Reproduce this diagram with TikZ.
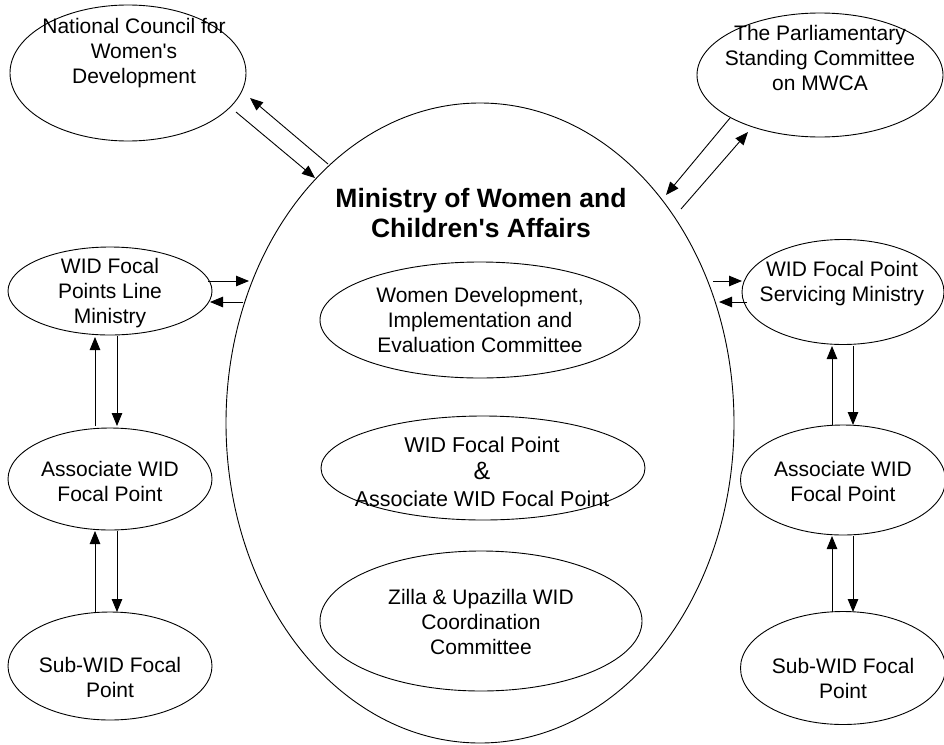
\documentclass[tikz,border=0pt]{standalone}
\usepackage{fontspec}
\setmainfont{Liberation Sans}
\usetikzlibrary{shapes.geometric,arrows.meta}
\newcommand{\apos}{\textquotesingle}
\begin{document}
\begin{tikzpicture}[x=1pt,y=-1pt,
  bubble/.style={draw, ellipse, line width=0.9pt, inner sep=0pt},
  lbl/.style={align=center, inner sep=0pt, font=\fontsize{21}{25}\selectfont},
  title/.style={align=center, inner sep=0pt, font=\bfseries\fontsize{26.5}{30}\selectfont},
  flow/.style={line width=0.9pt, -{Triangle[length=13pt,width=10.5pt]}}]
\useasboundingbox (0,0) rectangle (944,744);

% ministry and its committees
\node[bubble, minimum width=508pt, minimum height=640pt] (mowca) at (480,423) {};
\node[bubble, minimum width=320pt, minimum height=116pt] (wdiec) at (480,320) {};
\node[bubble, minimum width=324pt, minimum height=104pt] (widfp) at (483,468) {};
\node[bubble, minimum width=322pt, minimum height=140pt] (zilla) at (481,621) {};

% outer bodies
\node[bubble, minimum width=236pt, minimum height=136pt] (ncwd) at (128,73) {};
\node[bubble, minimum width=246pt, minimum height=124pt] (psc) at (820,75) {};
\node[bubble, minimum width=204pt, minimum height=88pt] (lline) at (110,291) {};
\node[bubble, minimum width=204pt, minimum height=102pt] (lassoc) at (110,479) {};
\node[bubble, minimum width=204pt, minimum height=108pt] (lsub) at (110,666) {};
\node[bubble, minimum width=202pt, minimum height=105pt] (rserv) at (843,292) {};
\node[bubble, minimum width=205pt, minimum height=110pt] (rassoc) at (843,480) {};
\node[bubble, minimum width=205pt, minimum height=113pt] (rsub) at (843,668) {};

% texts
\node[title] (mowca-t) at (481,213) {Ministry of Women and\\Children\apos s Affairs};
\node[lbl] (wdiec-t) at (480,320) {Women Development,\\Implementation and\\Evaluation Committee};
\node[lbl, font=\fontsize{21.5}{27}\selectfont] (widfp-t) at (482,472)
  {WID Focal Point\\{\fontsize{25}{28}\selectfont\&}\\Associate WID Focal Point};
\node[lbl] (zilla-t) at (481,622) {Zilla \& Upazilla WID\\Coordination\\Committee};
\node[lbl] (ncwd-t) at (134,53) {National Council for\\Women\apos s\\Development};
\node[lbl] (psc-t) at (820,58) {The Parliamentary\\Standing Committee\\on MWCA};
\node[lbl] (lline-t) at (110,293) {WID Focal\\Points Line\\Ministry};
\node[lbl] (lassoc-t) at (110,481) {Associate WID\\Focal Point};
\node[lbl] (lsub-t) at (110,677) {Sub-WID Focal\\Point};
\node[lbl] (rserv-t) at (842,284) {WID Focal Point\\Servicing Ministry};
\node[lbl] (rassoc-t) at (843,481) {Associate WID\\Focal Point};
\node[lbl] (rsub-t) at (843,678) {Sub-WID Focal\\Point};

% connector end points on the borders
\coordinate (n1) at (236,112); \coordinate (m1) at (315,178);
\coordinate (m2) at (328,164); \coordinate (n2) at (250,98);
\coordinate (p1) at (730,118); \coordinate (m3) at (666,195);
\coordinate (m4) at (681,209); \coordinate (p2) at (748,132);
\coordinate (l1) at (208,281); \coordinate (m5) at (249,281);
\coordinate (m6) at (243,302); \coordinate (l2) at (210,302);
\coordinate (r1) at (713,281); \coordinate (r2) at (742,281);
\coordinate (r3) at (747,302); \coordinate (r4) at (719,302);

\coordinate (la1) at (95,426);  \coordinate (ll1) at (95,337);
\coordinate (ll2) at (117,336); \coordinate (la2) at (117,426);
\coordinate (ls1) at (95,612);  \coordinate (la3) at (95,531);
\coordinate (la4) at (117,531); \coordinate (ls2) at (117,612);

\coordinate (ra1) at (832,425); \coordinate (rs1) at (832,346);
\coordinate (rs2) at (853,346); \coordinate (ra2) at (853,425);
\coordinate (rb1) at (832,612); \coordinate (ra3) at (832,536);
\coordinate (ra4) at (853,536); \coordinate (rb2) at (853,612);

% connectors
\draw[flow] (n1) -- (m1);
\draw[flow] (m2) -- (n2);
\draw[flow] (p1) -- (m3);
\draw[flow] (m4) -- (p2);
\draw[flow] (l1) -- (m5);
\draw[flow] (m6) -- (l2);
\draw[flow] (r1) -- (r2);
\draw[flow] (r3) -- (r4);

\draw[flow] (la1) -- (ll1);
\draw[flow] (ll2) -- (la2);
\draw[flow] (ls1) -- (la3);
\draw[flow] (la4) -- (ls2);

\draw[flow] (ra1) -- (rs1);
\draw[flow] (rs2) -- (ra2);
\draw[flow] (rb1) -- (ra3);
\draw[flow] (ra4) -- (rb2);
\end{tikzpicture}
\end{document}
